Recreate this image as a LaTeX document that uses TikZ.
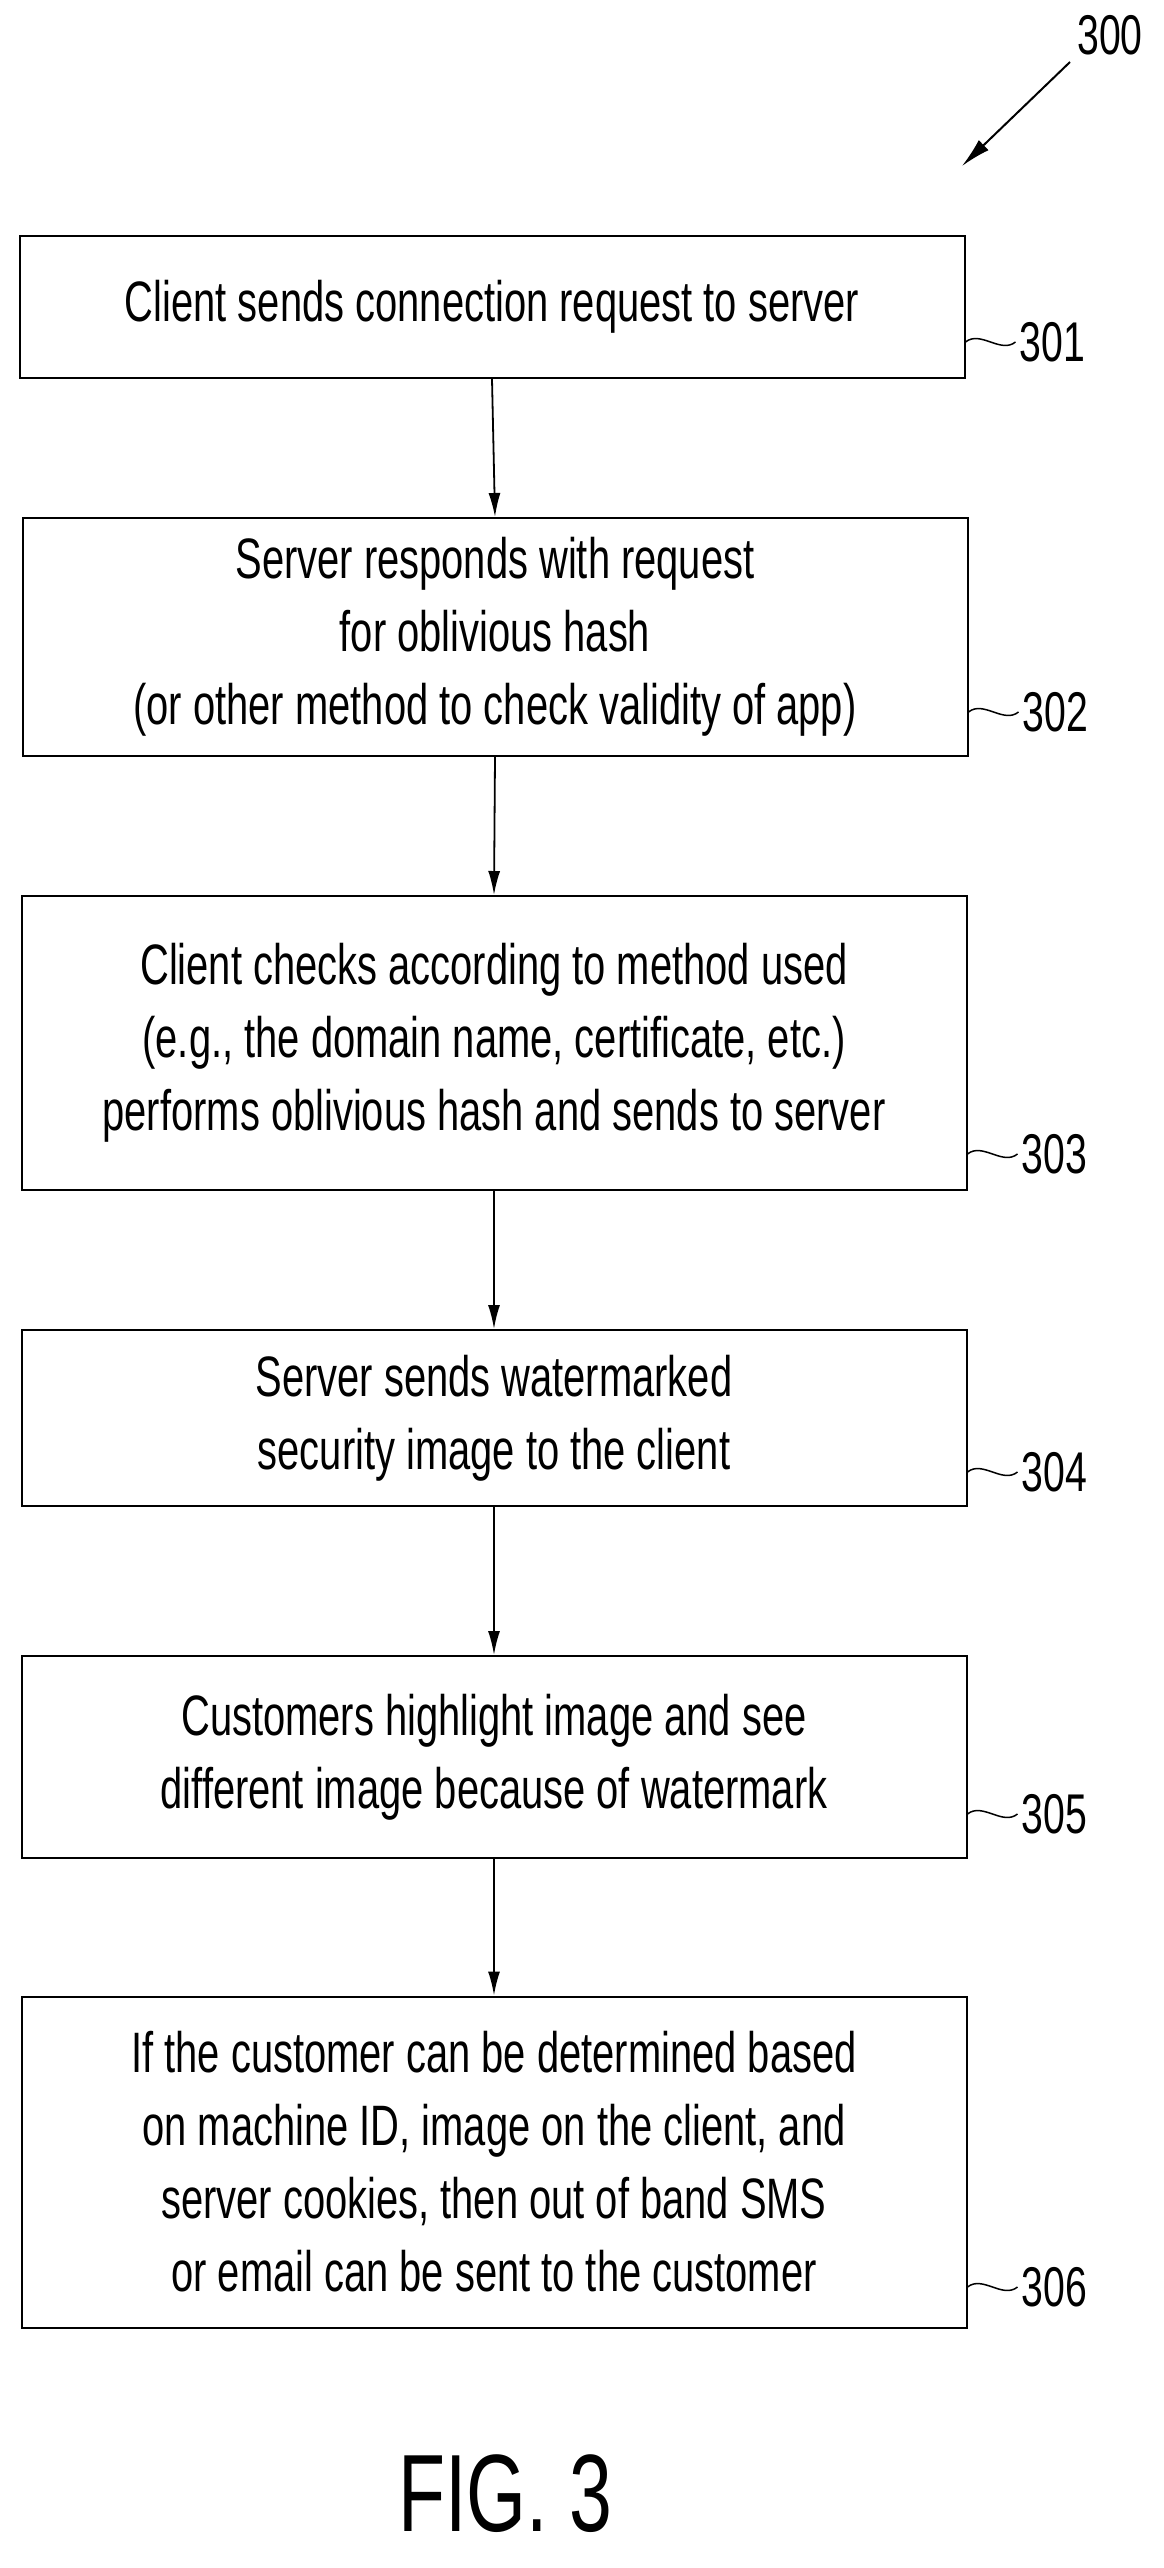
\documentclass[tikz,border=0pt]{standalone}
\usepackage{fontspec}
\setmainfont{Liberation Sans}[FakeStretch=0.7]
\usetikzlibrary{arrows.meta}
\begin{document}
\begin{tikzpicture}[x=1pt,y=-1pt,
  box/.style={draw,line width=2pt,minimum width=945pt,align=center,inner sep=0pt,font=\fontsize{57}{73}\selectfont},
  lab/.style={font=\fontsize{56}{60}\selectfont,anchor=west},
  arr/.style={line width=1.8pt,-{Latex[length=24pt,width=12pt]}}]
\useasboundingbox (0,0) rectangle (1164,2568);
\node[box,minimum height=142pt] (b1) at (492,307) {Client sends connection request to server};
\node[box,minimum height=238pt] (b2) at (495,637) {Server responds with request\\for oblivious hash\\(or other method to check validity of app)};
\node[box,minimum height=294pt] (b3) at (494,1043) {Client checks according to method used\\(e.g., the domain name, certificate, etc.)\\performs oblivious hash and sends to server};
\node[box,minimum height=176pt] (b4) at (494,1418) {Server sends watermarked\\security image to the client};
\node[box,minimum height=202pt] (b5) at (494,1757) {Customers highlight image and see\\different image because of watermark};
\node[box,minimum height=331pt] (b6) at (494,2162) {If the customer can be determined based\\on machine ID, image on the client, and\\server cookies, then out of band SMS\\or email can be sent to the customer};
\foreach \a/\b in {b1/b2,b2/b3,b3/b4,b4/b5,b5/b6} \draw[arr] (\a.south) -- (\b.north);
\foreach \b/\n/\y in {b1/301/342,b2/302/712,b3/303/1154,b4/304/1472,b5/305/1814,b6/306/2287}{
  \coordinate (s\n) at (\b.east |- 0,\y);
  \draw[line width=1.5pt] (s\n) .. controls +(15,-12) and +(-15,12) .. ++(50,0) node[lab] (l\n) {\n};
}
\node[font=\fontsize{56}{60}\selectfont] (l300) at (1110,35) {300};
\coordinate (a300) at (1070,62);
\coordinate (t300) at (962,166);
\draw[line width=2pt,-{Latex[length=30pt,width=14pt]}] (a300) -- (t300);
\node[font=\fontsize{110}{120}\selectfont] (fig) at (505,2494) {FIG. 3};
\end{tikzpicture}
\end{document}
